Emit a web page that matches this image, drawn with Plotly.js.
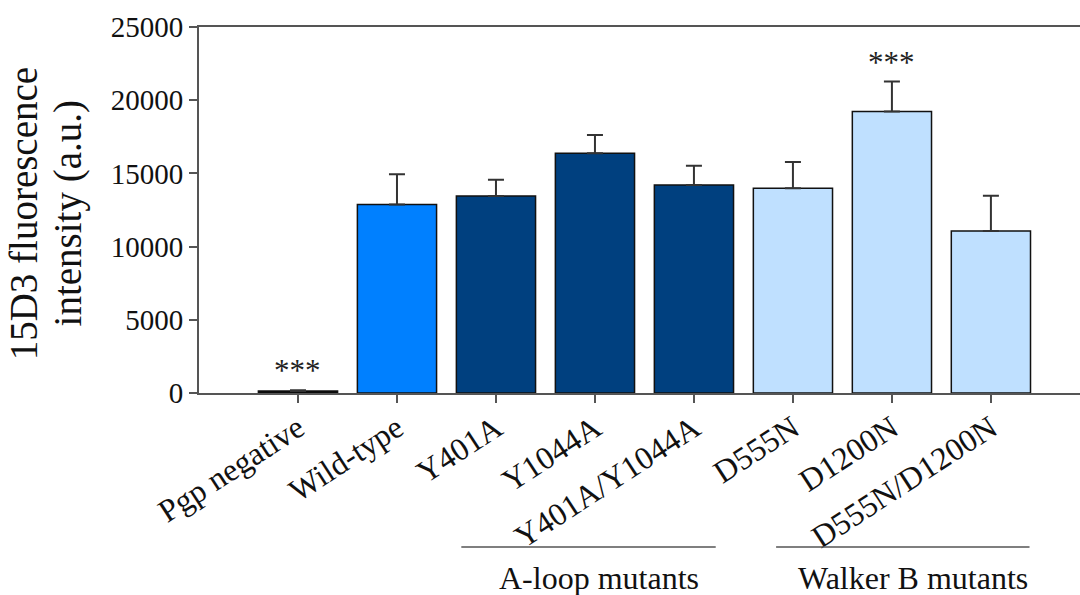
<!DOCTYPE html>
<html>
<head>
<meta charset="utf-8">
<script src="https://cdn.plot.ly/plotly-3.0.1.min.js"></script>
<style>
  html, body { margin: 0; padding: 0; background: #fff; }
  #chart { width: 1080px; height: 595px; }
</style>
</head>
<body>
<div id="chart"></div>
<script>
// Pgp constructs and mean 15D3 fluorescence (a.u.) with SD
const categories = ["Pgp negative", "Wild-type", "Y401A", "Y1044A", "Y401A/Y1044A", "D555N", "D1200N", "D555N/D1200N"];
const meanValues = [130, 12870, 13460, 16380, 14210, 13980, 19220, 11070];
const errorValues = [60, 2070, 1110, 1250, 1310, 1800, 2050, 2410];
const barColors = ["#000000", "#0080FF", "#00407F", "#00407F", "#00407F", "#BFE0FF", "#BFE0FF", "#BFE0FF"];
const significance = ["***", "", "", "", "", "", "***", ""];
const yTicks = [0, 5000, 10000, 15000, 20000, 25000];
const yTitleLines = ["15D3 fluorescence", "intensity (a.u.)"];
const groupLabels = ["A-loop mutants", "Walker B mutants"];

const serif = "Liberation Serif, Times New Roman, serif";
const axisColor = "#555555";

const trace = {
  type: "bar",
  x: categories,
  y: meanValues,
  width: 0.8,
  marker: { color: barColors, line: { color: "#111111", width: 1.5 } },
  error_y: {
    type: "data",
    symmetric: false,
    array: errorValues,
    arrayminus: errorValues.map(() => 0),
    color: "#333333",
    thickness: 2,
    width: 8
  },
  hoverinfo: "x+y"
};

// significance marks sit just above each error bar
const annotations = [];
significance.forEach((s, i) => {
  if (!s) return;
  annotations.push({
    x: categories[i], xref: "x",
    y: meanValues[i] + errorValues[i], yref: "y",
    yanchor: "bottom", yshift: 0,
    text: s, showarrow: false,
    font: { family: serif, size: 31, color: "#222" }
  });
});

// two-line vertical axis title, lines set close together
const titleX = [-0.199, -0.149];
yTitleLines.forEach((line, i) => {
  annotations.push({
    x: titleX[i], xref: "paper", xanchor: "center",
    y: 0.49, yref: "paper", yanchor: "middle",
    text: line, textangle: -90, showarrow: false,
    font: { family: serif, size: 39, color: "#111" }
  });
});

// group brackets below the rotated category labels
const groupSpans = [[1.65, 4.22], [4.83, 7.39]];
const shapes = groupSpans.map(([a, b]) => ({
  type: "line", xref: "x", yref: "paper",
  x0: a, x1: b, y0: -0.421, y1: -0.421,
  line: { color: axisColor, width: 1.5 }
}));
groupLabels.forEach((label, i) => {
  annotations.push({
    x: (groupSpans[i][0] + groupSpans[i][1]) / 2, xref: "x", xshift: 10,
    y: -0.505, yref: "paper", yanchor: "middle",
    text: label, showarrow: false,
    font: { family: serif, size: 32, color: "#111" }
  });
});

const layout = {
  width: 1080, height: 595,
  margin: { l: 199, r: 0, t: 27, b: 202, pad: 0 },
  paper_bgcolor: "#ffffff", plot_bgcolor: "#ffffff",
  showlegend: false,
  bargap: 0.2,
  xaxis: {
    type: "category",
    range: [-1, 7.9],
    showgrid: false, zeroline: false,
    showline: true, linecolor: axisColor, linewidth: 2, mirror: true,
    ticks: "outside", ticklen: 8, tickwidth: 2, tickcolor: axisColor,
    tickangle: -33,
    ticklabelstandoff: -6,
    tickfont: { family: serif, size: 32, color: "#111" }
  },
  yaxis: {
    range: [0, 25000],
    tickvals: yTicks,
    ticktext: yTicks.map(String),
    showgrid: false, zeroline: false,
    showline: true, linecolor: axisColor, linewidth: 2,
    ticks: "outside", ticklen: 8, tickwidth: 2, tickcolor: axisColor,
    tickfont: { family: serif, size: 29, color: "#111" }
  },
  shapes: shapes,
  annotations: annotations
};

Plotly.newPlot("chart", [trace], layout, { displayModeBar: false, staticPlot: true });
</script>
</body>
</html>
